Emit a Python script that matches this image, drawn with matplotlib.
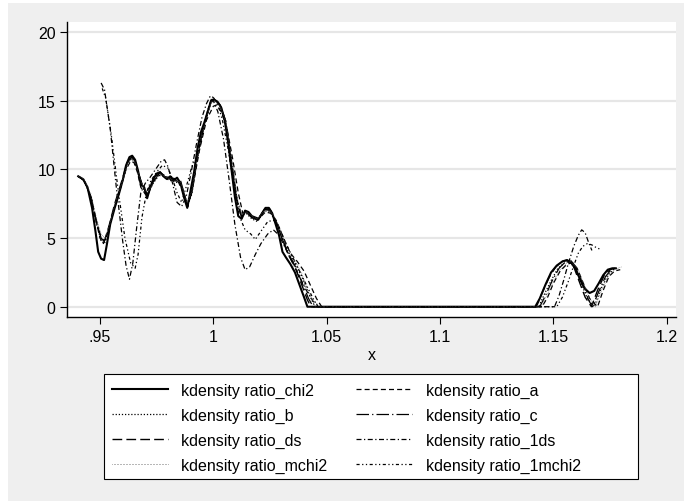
import matplotlib
matplotlib.use("Agg")
import matplotlib.pyplot as plt
from matplotlib.patches import Rectangle

plt.rcParams["font.family"] = ["Liberation Sans", "DejaVu Sans"]

# kdensity estimates
chi2_x = [0.9404, 0.9425, 0.9445, 0.9465, 0.9480, 0.9492, 0.9505, 0.9518, 0.9530, 0.9545,
          0.9565, 0.9585, 0.9600, 0.9615, 0.9630, 0.9642, 0.9655, 0.9668, 0.9680, 0.9695,
          0.9708, 0.9720, 0.9735, 0.9750, 0.9765, 0.9780, 0.9795, 0.9810, 0.9825, 0.9840,
          0.9855, 0.9870, 0.9885, 0.9900, 0.9915, 0.9930, 0.9945, 0.9960, 0.9975, 0.9990,
          1.0003, 1.0020, 1.0035, 1.0050, 1.0065, 1.0080, 1.0095, 1.0110, 1.0125, 1.0140,
          1.0155, 1.0170, 1.0185, 1.0200, 1.0215, 1.0230, 1.0245, 1.0260, 1.0275, 1.0290,
          1.0305, 1.0320, 1.0340, 1.0360, 1.0380, 1.0400, 1.0415, 1.1420, 1.1440, 1.1465,
          1.1490, 1.1515, 1.1540, 1.1560, 1.1580, 1.1600, 1.1620, 1.1640, 1.1660, 1.1680,
          1.1700, 1.1720, 1.1740, 1.1760, 1.1775]
chi2_y = [9.5, 9.3, 8.7, 7.2, 5.5, 4.0, 3.5, 3.4, 4.5, 6.0,
          7.2, 8.3, 9.2, 10.3, 10.9, 11.0, 10.7, 9.9, 8.9, 8.7,
          7.9, 8.6, 9.3, 9.7, 9.8, 9.5, 9.3, 9.5, 9.2, 9.4,
          9.0, 8.0, 7.2, 8.5, 9.8, 11.5, 12.7, 13.4, 14.2, 15.0,
          15.1, 14.9, 14.5, 13.6, 12.0, 10.0, 8.0, 6.6, 6.4, 7.0,
          6.9, 6.6, 6.5, 6.4, 6.8, 7.2, 7.2, 6.8, 6.0, 5.2,
          4.0, 3.6, 3.1, 2.5, 1.6, 0.7, 0.0, 0.0, 0.6, 1.6,
          2.5, 3.0, 3.3, 3.4, 3.2, 2.7, 1.9, 1.3, 1.0, 1.15,
          1.7, 2.3, 2.7, 2.8, 2.8]

a_x = [0.9404, 0.9430, 0.9460, 0.9480, 0.9500, 0.9515, 0.9535, 0.9560, 0.9590, 0.9615,
       0.9635, 0.9650, 0.9665, 0.9680, 0.9700, 0.9720, 0.9750, 0.9780, 0.9810, 0.9840,
       0.9870, 0.9888, 0.9910, 0.9940, 0.9970, 1.0000, 1.0015, 1.0035, 1.0060, 1.0085,
       1.0110, 1.0130, 1.0150, 1.0175, 1.0200, 1.0230, 1.0255, 1.0280, 1.0310, 1.0340,
       1.0370, 1.0400, 1.0430, 1.0455, 1.0478, 1.1450, 1.1475, 1.1500, 1.1530, 1.1560,
       1.1585, 1.1610, 1.1635, 1.1660, 1.1695, 1.1720, 1.1745, 1.1770, 1.1795]
a_y = [9.5, 9.2, 8.0, 6.5, 5.0, 4.6, 5.5, 7.0, 8.6, 10.0,
       10.6, 10.5, 9.8, 8.7, 8.2, 8.8, 9.6, 9.5, 9.4, 9.3,
       8.2, 7.3, 8.8, 11.5, 13.6, 14.6, 14.7, 14.2, 13.0, 10.8,
       8.3, 6.8, 6.8, 6.5, 6.4, 6.9, 6.8, 6.2, 5.0, 3.9,
       3.3, 2.6, 1.5, 0.6, 0.0, 0.0, 0.7, 1.7, 2.6, 3.1,
       3.2, 2.6, 1.6, 0.6, 0.0, 1.2, 2.2, 2.6, 2.7]

b_x = [0.9404, 0.9430, 0.9460, 0.9485, 0.9505, 0.9520, 0.9540, 0.9565, 0.9595, 0.9620,
       0.9640, 0.9655, 0.9670, 0.9690, 0.9710, 0.9735, 0.9765, 0.9795, 0.9825, 0.9855,
       0.9885, 0.9905, 0.9930, 0.9960, 0.9990, 1.0005, 1.0030, 1.0055, 1.0080, 1.0105,
       1.0125, 1.0145, 1.0170, 1.0195, 1.0225, 1.0250, 1.0275, 1.0300, 1.0330, 1.0360,
       1.0390, 1.0420, 1.0448, 1.1435, 1.1460, 1.1490, 1.1520, 1.1550, 1.1570, 1.1600,
       1.1625, 1.1650, 1.1680, 1.1710, 1.1740, 1.1765, 1.1780]
b_y = [9.5, 9.2, 8.0, 6.0, 4.8, 4.6, 5.8, 7.4, 9.0, 10.4,
       10.8, 10.5, 9.6, 8.6, 8.2, 9.0, 9.7, 9.3, 9.1, 9.0,
       7.4, 8.2, 10.8, 13.2, 14.9, 15.0, 14.6, 13.4, 10.6, 7.8,
       6.6, 6.8, 6.4, 6.2, 7.0, 6.9, 6.2, 5.3, 4.0, 3.2,
       2.2, 1.0, 0.0, 0.0, 0.9, 1.9, 2.8, 3.2, 3.3, 2.7,
       1.6, 0.6, 0.0, 1.3, 2.3, 2.7, 2.8]

c_x = [0.9404, 0.9430, 0.9460, 0.9485, 0.9505, 0.9522, 0.9545, 0.9570, 0.9600, 0.9622,
       0.9640, 0.9655, 0.9670, 0.9690, 0.9710, 0.9735, 0.9765, 0.9795, 0.9825, 0.9855,
       0.9885, 0.9905, 0.9930, 0.9960, 0.9990, 1.0005, 1.0030, 1.0055, 1.0080, 1.0105,
       1.0125, 1.0145, 1.0170, 1.0195, 1.0225, 1.0250, 1.0275, 1.0300, 1.0330, 1.0360,
       1.0390, 1.0420, 1.0440, 1.1440, 1.1465, 1.1495, 1.1525, 1.1555, 1.1575, 1.1605,
       1.1630, 1.1655, 1.1672, 1.1700, 1.1730, 1.1755, 1.1770]
c_y = [9.5, 9.2, 8.0, 6.2, 5.0, 4.7, 6.0, 7.6, 9.2, 10.5,
       10.9, 10.6, 9.7, 8.7, 8.1, 9.1, 9.8, 9.4, 9.2, 9.1,
       7.5, 8.3, 11.0, 13.3, 15.0, 15.1, 14.7, 13.5, 10.5, 7.5,
       6.5, 6.9, 6.5, 6.3, 7.1, 7.0, 6.3, 5.1, 3.9, 3.0,
       1.8, 0.6, 0.0, 0.0, 0.8, 1.9, 2.8, 3.3, 3.4, 2.8,
       1.6, 0.5, 0.0, 1.1, 2.2, 2.7, 2.8]

ds_x = [0.9404, 0.9430, 0.9460, 0.9485, 0.9505, 0.9520, 0.9540, 0.9565, 0.9595, 0.9620,
        0.9640, 0.9655, 0.9670, 0.9690, 0.9710, 0.9735, 0.9765, 0.9795, 0.9825, 0.9855,
        0.9885, 0.9905, 0.9930, 0.9960, 0.9990, 1.0005, 1.0030, 1.0055, 1.0080, 1.0105,
        1.0125, 1.0145, 1.0170, 1.0195, 1.0225, 1.0250, 1.0275, 1.0300, 1.0330, 1.0360,
        1.0390, 1.0415, 1.0430, 1.1425, 1.1450, 1.1480, 1.1510, 1.1540, 1.1562, 1.1590,
        1.1615, 1.1640, 1.1668, 1.1695, 1.1725, 1.1750, 1.1772]
ds_y = [9.5, 9.2, 8.0, 6.1, 5.0, 4.8, 5.9, 7.5, 9.1, 10.5,
        10.9, 10.6, 9.7, 8.7, 8.2, 9.1, 9.8, 9.4, 9.2, 9.2,
        7.4, 8.3, 11.0, 13.3, 15.0, 15.1, 14.7, 13.5, 10.6, 7.7,
        6.6, 6.9, 6.5, 6.3, 7.1, 7.1, 6.3, 5.1, 3.8, 2.9,
        1.6, 0.5, 0.0, 0.0, 1.0, 2.1, 2.9, 3.3, 3.4, 2.9,
        1.8, 0.7, 0.0, 1.2, 2.3, 2.7, 2.8]

ods_x = [0.9505, 0.9520, 0.9545, 0.9570, 0.9600, 0.9615, 0.9630, 0.9645, 0.9660, 0.9680,
         0.9700, 0.9720, 0.9745, 0.9770, 0.9785, 0.9800, 0.9820, 0.9840, 0.9860, 0.9880,
         0.9900, 0.9925, 0.9950, 0.9970, 0.9985, 1.0000, 1.0020, 1.0045, 1.0070, 1.0095,
         1.0120, 1.0140, 1.0160, 1.0185, 1.0210, 1.0240, 1.0265, 1.0290, 1.0320, 1.0350,
         1.0380, 1.0410, 1.0440, 1.0470, 1.1505, 1.1525, 1.1545, 1.1565, 1.1590, 1.1610,
         1.1625, 1.1640, 1.1655, 1.1670]
ods_y = [16.3, 15.8, 13.0, 9.0, 4.8, 3.0, 2.0, 3.2, 5.5, 8.3,
         9.0, 9.4, 10.0, 10.6, 10.7, 10.2, 9.0, 7.6, 7.3, 8.0,
         9.6, 11.8, 13.8, 14.8, 15.3, 15.0, 14.2, 12.2, 9.2, 6.0,
         3.6, 2.7, 2.9, 3.8, 4.6, 5.3, 5.6, 5.2, 4.2, 3.2,
         2.2, 1.2, 0.4, 0.0, 0.0, 0.8, 1.9, 3.1, 4.4, 5.2,
         5.6, 5.4, 4.7, 4.1]

mchi2_x = [0.9404, 0.9430, 0.9460, 0.9485, 0.9505, 0.9522, 0.9545, 0.9570, 0.9600, 0.9622,
           0.9640, 0.9655, 0.9670, 0.9690, 0.9710, 0.9735, 0.9765, 0.9795, 0.9825, 0.9855,
           0.9885, 0.9905, 0.9930, 0.9960, 0.9990, 1.0005, 1.0030, 1.0055, 1.0080, 1.0105,
           1.0125, 1.0145, 1.0170, 1.0195, 1.0225, 1.0250, 1.0275, 1.0300, 1.0330, 1.0360,
           1.0390, 1.0420, 1.0450, 1.1445, 1.1470, 1.1500, 1.1530, 1.1560, 1.1580, 1.1610,
           1.1635, 1.1660, 1.1685, 1.1715, 1.1745, 1.1770, 1.1800]
mchi2_y = [9.5, 9.3, 8.2, 6.4, 5.3, 5.0, 6.1, 7.7, 9.2, 10.4,
           10.8, 10.5, 9.7, 8.7, 8.3, 9.0, 9.7, 9.4, 9.2, 9.1,
           7.6, 8.4, 10.9, 13.2, 14.9, 15.0, 14.6, 13.5, 10.8, 8.0,
           6.7, 6.9, 6.6, 6.4, 7.0, 7.0, 6.4, 5.4, 4.2, 3.4,
           2.4, 1.1, 0.0, 0.0, 0.8, 1.8, 2.7, 3.2, 3.3, 2.7,
           1.6, 0.6, 0.0, 1.3, 2.3, 2.7, 2.9]

omchi2_x = [0.9510, 0.9525, 0.9550, 0.9580, 0.9610, 0.9635, 0.9655, 0.9668, 0.9685, 0.9705,
            0.9725, 0.9750, 0.9775, 0.9800, 0.9820, 0.9840, 0.9860, 0.9885, 0.9905, 0.9925,
            0.9950, 0.9975, 0.9995, 1.0015, 1.0040, 1.0065, 1.0090, 1.0115, 1.0140, 1.0165,
            1.0185, 1.0210, 1.0240, 1.0265, 1.0290, 1.0320, 1.0350, 1.0380, 1.0410, 1.0440,
            1.0462, 1.1515, 1.1540, 1.1565, 1.1590, 1.1610, 1.1630, 1.1650, 1.1670, 1.1690,
            1.1705]
omchi2_y = [15.9, 15.2, 12.5, 8.5, 5.0, 3.2, 2.8, 3.8, 6.5, 8.3,
            9.2, 9.8, 10.3, 10.1, 9.3, 8.3, 7.6, 9.0, 10.2, 10.8,
            12.5, 14.3, 15.3, 15.0, 13.6, 11.5, 8.8, 6.6, 5.6, 5.3,
            4.9, 5.5, 6.2, 6.3, 5.8, 4.6, 3.6, 2.6, 1.6, 0.6,
            0.0, 0.0, 0.7, 1.8, 3.0, 3.9, 4.4, 4.6, 4.5, 4.3,
            4.2]

labels = ["kdensity ratio_chi2", "kdensity ratio_a", "kdensity ratio_b",
          "kdensity ratio_c", "kdensity ratio_ds", "kdensity ratio_1ds",
          "kdensity ratio_mchi2", "kdensity ratio_1mchi2"]

xticks = [0.95, 1.0, 1.05, 1.1, 1.15, 1.2]
xticklabels = [".95", "1", "1.05", "1.1", "1.15", "1.2"]
yticks = [0, 5, 10, 15, 20]

W, H = 684, 502
fig = plt.figure(figsize=(W / 100, H / 100), dpi=100, facecolor="white")
fig.patches.append(Rectangle((8 / W, 0), 1, 1 - 4 / H, transform=fig.transFigure,
                             facecolor="#efefef", edgecolor="none", zorder=-10))

ax = fig.add_axes([67.3 / W, 1 - 318.3 / H, (676 - 67.3) / W, (318.3 - 22.7) / H])
ax.set_facecolor("white")

ax.plot(chi2_x, chi2_y, color="black", lw=1.5, ls="-", label=labels[0])
ax.plot(a_x, a_y, color="black", lw=0.9, ls=(0, (4, 2.5)), label=labels[1])
ax.plot(b_x, b_y, color="black", lw=0.9, ls=(0, (1, 1.5)), label=labels[2])
ax.plot(c_x, c_y, color="black", lw=0.9, ls=(0, (10, 2.5, 1, 2.5)), label=labels[3])
ax.plot(ds_x, ds_y, color="black", lw=1.0, ls=(0, (7, 3)), label=labels[4])
ax.plot(ods_x, ods_y, color="black", lw=0.9, ls=(0, (4, 2, 1, 2)), label=labels[5])
ax.plot(mchi2_x, mchi2_y, color="#555555", lw=0.6, ls=(0, (0.6, 1.2)), label=labels[6])
ax.plot(omchi2_x, omchi2_y, color="black", lw=0.9, ls=(0, (2.5, 2, 1, 2, 1, 2)), label=labels[7])

ax.set_xlim(0.93558, 1.2041)
ax.set_ylim(-0.77, 20.76)
ax.set_xticks(xticks)
ax.set_xticklabels(xticklabels)
ax.set_yticks(yticks)
ax.grid(axis="y", color="#e6e6e6", lw=1.6, zorder=0)
ax.set_axisbelow(True)
for side in ["top", "right"]:
    ax.spines[side].set_visible(False)
for side in ["left", "bottom"]:
    ax.spines[side].set_color("black")
    ax.spines[side].set_linewidth(1.0)
ax.tick_params(direction="out", length=5, width=0.8, labelsize=11.5, pad=3.5)
ax.set_xlabel("x", fontsize=11.5, labelpad=2)

# legend box drawn by hand so the frame matches the original
fig.patches.append(Rectangle((104 / W, 1 - 480 / H), (638 - 104) / W, (480 - 375) / H,
                             transform=fig.transFigure, facecolor="white",
                             edgecolor="black", lw=0.8, zorder=1))

# matplotlib fills legend columns first, Stata fills rows first
handles, labs = ax.get_legend_handles_labels()
order = [0, 2, 4, 6, 1, 3, 5, 7]
leg = fig.legend([handles[i] for i in order], [labs[i] for i in order], ncol=2,
                 loc="upper left", bbox_to_anchor=(111.7 / W, 1 - 383.5 / H),
                 fontsize=11.5, frameon=False, handlelength=3.5, handletextpad=0.85,
                 labelspacing=0.62, columnspacing=1.8, borderaxespad=0, borderpad=0)

fig.savefig("out.png", dpi=100)
